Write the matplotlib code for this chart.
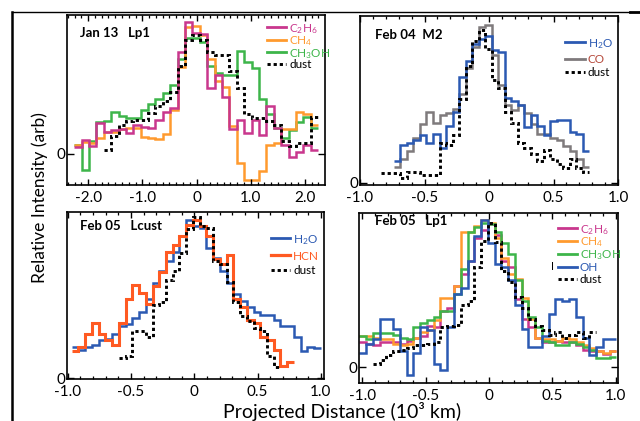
import numpy as np
import matplotlib
matplotlib.use('Agg')
import matplotlib.pyplot as plt
from matplotlib.lines import Line2D
from matplotlib.ticker import MultipleLocator

FONT = 'Lato'
plt.rcParams['font.family'] = [FONT, 'DejaVu Sans']
plt.rcParams['mathtext.fontset'] = 'custom'
plt.rcParams['mathtext.rm'] = FONT
plt.rcParams['mathtext.it'] = FONT + ':italic'
plt.rcParams['mathtext.bf'] = FONT + ':bold'
plt.rcParams['axes.unicode_minus'] = False

C_MAG = '#C9378D'
C_ORA = '#FF9A2E'
C_GRN = '#3DB54A'
C_BLU = '#2B59B2'
C_GRY = '#7F7A7C'
C_HCN = '#FF5A22'
C_CO_TXT = '#B5483A'

# ---------------- data ----------------
# Panel 1: Jan 13 Lp1  (bins: start, width)
p1_start, p1_width = -2.258, 0.1364
p1_c2h6 = [0.056, 0.106, 0.063, 0.237, 0.169, 0.18, 0.187, 0.16, 0.22, 0.207, 0.2, 0.26, 0.32, 0.35,
           0.77, 1.0, 0.92, 0.91, 0.5, 0.6, 0.43, 0.19, 0.26, 0.157, 0.26, 0.144, 0.36, 0.2, 0.07,
           -0.02, 0.018, 0.07, 0.03]
p1_ch4 = [0.07, 0.09, 0.08, 0.12, 0.17, 0.17, 0.19, 0.2, 0.2, 0.13, 0.12, 0.11, 0.15, 0.33,
          0.66, 0.96, 0.97, 0.9, 0.72, 0.55, 0.51, 0.21, -0.07, -0.2, -0.2, -0.13, 0.07, 0.08,
          0.19, 0.19, 0.32, 0.3, 0.22]
p1_ch3oh = [0.07, -0.12, 0.1, 0.245, 0.25, 0.32, 0.29, 0.27, 0.27, 0.33, 0.38, 0.42, 0.46, 0.52,
            0.72, 0.88, 0.88, 0.85, 0.67, 0.61, 0.6, 0.6, 0.78, 0.7, 0.65, 0.42, 0.3, 0.2, 0.12,
            0.18, 0.24, 0.28, 0.2]
p1_dust_off = 4
p1_dust = [0.03, 0.14, 0.22, 0.25, 0.26, 0.26, 0.31, 0.36, 0.4, 0.47, 0.67, 0.86, 0.9, 0.86, 0.77,
           0.75, 0.75, 0.63, 0.5, 0.3, 0.27, 0.27, 0.25, 0.22, 0.1, 0.06, 0.08, 0.08, 0.28]

# Panel 2: Feb 04 M2
p2_start, p2_width = -0.838, 0.0505
p2_gas_off = 2
p2_h2o = [0.14, 0.24, 0.25, 0.27, 0.3, 0.25, 0.31, 0.22, 0.36, 0.45, 0.67, 0.77, 0.88, 0.91, 0.93,
          0.84, 0.83, 0.54, 0.52, 0.49, 0.35, 0.43, 0.36, 0.3, 0.39, 0.4, 0.4, 0.32, 0.31, 0.2]
p2_co = [0.1, 0.15, 0.2, 0.28, 0.37, 0.45, 0.38, 0.43, 0.44, 0.47, 0.56, 0.73, 0.86, 0.99, 1.0,
         0.81, 0.62, 0.49, 0.46, 0.49, 0.44, 0.37, 0.31, 0.31, 0.28, 0.27, 0.23, 0.2, 0.15, 0.1]
p2_dust = [0.06, 0.06, 0.06, 0.03, 0.07, 0.07, 0.05, 0.05, 0.05, 0.25, 0.24, 0.3, 0.53, 0.74, 0.9,
           0.97, 0.85, 0.65, 0.6, 0.45, 0.38, 0.25, 0.22, 0.18, 0.14, 0.21, 0.15, 0.12, 0.09, 0.15,
           0.09, 0.07]

# Panel 3: Feb 05 Lcust
p3_start, p3_width = -0.968, 0.0532
p3_h2o = [0.2, 0.18, 0.2, 0.21, 0.24, 0.25, 0.28, 0.33, 0.34, 0.38, 0.42, 0.5, 0.6, 0.68, 0.74,
          0.8, 0.9, 1.0, 0.96, 0.95, 0.82, 0.76, 0.68, 0.6, 0.53, 0.49, 0.45, 0.42, 0.4, 0.4,
          0.37, 0.33, 0.33, 0.26, 0.17, 0.2, 0.19]
p3_hcn = [0.17, 0.2, 0.28, 0.35, 0.28, 0.24, 0.21, 0.35, 0.5, 0.59, 0.54, 0.47, 0.58, 0.67, 0.8,
          0.84, 0.9, 0.97, 1.0, 0.96, 0.9, 0.75, 0.72, 0.78, 0.5, 0.45, 0.37, 0.35, 0.26, 0.24,
          0.18, 0.08, 0.1]
p3_dust_off = 7
p3_dust = [0.13, 0.14, 0.3, 0.3, 0.26, 0.46, 0.48, 0.62, 0.68, 0.79, 0.94, 1.02, 0.96, 0.95, 0.74,
           0.72, 0.61, 0.48, 0.39, 0.36, 0.32, 0.3, 0.14, 0.07]

# Panel 4: Feb 05 Lp1
p4_start, p4_width = -1.024, 0.0534
p4_c2h6 = [0.17, 0.16, 0.15, 0.17, 0.17, 0.17, 0.16, 0.18, 0.2, 0.21, 0.28, 0.27, 0.38, 0.4, 0.55,
           0.63, 0.72, 0.88, 0.93, 0.97, 0.9, 0.72, 0.68, 0.46, 0.33, 0.27, 0.2, 0.17, 0.17, 0.18,
           0.17, 0.17, 0.15, 0.12, 0.11, 0.11, 0.09, 0.11]
p4_ch4 = [0.21, 0.21, 0.2, 0.19, 0.19, 0.16, 0.15, 0.16, 0.2, 0.24, 0.25, 0.32, 0.47, 0.47, 0.55,
          0.92, 0.92, 0.96, 1.0, 0.98, 0.88, 0.74, 0.63, 0.6, 0.47, 0.33, 0.2, 0.19, 0.19, 0.18,
          0.2, 0.19, 0.17, 0.15, 0.13, 0.11, 0.1, 0.11]
p4_ch3oh = [0.21, 0.19, 0.23, 0.23, 0.23, 0.22, 0.2, 0.19, 0.27, 0.3, 0.32, 0.34, 0.38, 0.38, 0.5,
            0.67, 0.92, 0.95, 0.98, 0.97, 0.92, 0.84, 0.77, 0.59, 0.45, 0.34, 0.27, 0.18, 0.17,
            0.15, 0.15, 0.17, 0.16, 0.14, 0.12, 0.06, 0.06, 0.07]
p4_oh = [0.1, 0.16, 0.19, 0.33, 0.33, 0.26, 0.11, -0.05, 0.1, 0.27, 0.25, 0.02, -0.02, 0.27, 0.5,
         0.54, 0.72, 0.89, 1.0, 0.84, 0.7, 0.68, 0.59, 0.42, 0.26, 0.14, 0.14, 0.21, 0.36, 0.46,
         0.45, 0.46, 0.34, 0.2, 0.08, 0.14, 0.19, 0.19]
p4_dust_off = 2
p4_dust = [0.02, 0.05, 0.08, 0.11, 0.12, 0.13, 0.15, 0.15, 0.16, 0.17, 0.27, 0.28, 0.29, 0.42,
           0.45, 0.68, 0.86, 0.98, 0.85, 0.65, 0.58, 0.48, 0.4, 0.33, 0.28, 0.25, 0.22, 0.24,
           0.2, 0.22, 0.24, 0.2, 0.24]

ticks_wide = [-2, -1, 0, 1, 2]
labels_wide = ['-2.0', '-1.0', '0', '1.0', '2.0']
ticks_narrow = [-1, -0.5, 0, 0.5, 1]
labels_narrow = ['-1.0', '-0.5', '0', '0.5', '1.0']

# ---------------- figure ----------------
W, H = 640, 421
fig = plt.figure(figsize=(6.4, 4.21), dpi=100)


def fpos(x0, y0, x1, y1):
    return [x0 / W, 1 - y1 / H, (x1 - x0) / W, (y1 - y0) / H]


def fy(y):
    return 1 - y / H


def edges(start, width, n, off=0):
    return start + width * (off + np.arange(n + 1))


LW = 1.8
DUST = dict(color='black', lw=2.1, ls=(0, (1.1, 1.0)))


def step(ax, vals, start, width, color, off=0, lw=LW, **kw):
    ax.stairs(vals, edges(start, width, len(vals), off), baseline=None,
              color=color, lw=lw, **kw)


def setup(ax, xlim, ylim, ticks, labels, minor):
    ax.set_xlim(*xlim)
    ax.set_ylim(*ylim)
    ax.set_xticks(ticks, labels)
    ax.xaxis.set_minor_locator(MultipleLocator(minor))
    ax.set_yticks([0], ['0'])
    ax.tick_params(axis='x', which='both', direction='in', top=True, bottom=True,
                   labelsize=11, pad=4.5)
    ax.tick_params(axis='x', which='major', length=4, width=1)
    ax.tick_params(axis='x', which='minor', length=2.5, width=0.9)
    ax.tick_params(axis='y', which='major', direction='in', left=True, right=True,
                   length=5, width=1, labelsize=11, pad=1.5)
    for s in ax.spines.values():
        s.set_linewidth(1.2)


def leg(x0, x1, y, color, label, tcolor, ls='-', lw=2.0):
    fig.add_artist(Line2D([x0 / W, x1 / W], [fy(y), fy(y)], color=color, lw=lw, ls=ls,
                          transform=fig.transFigure))
    fig.text((x1 + 3) / W, fy(y), label, color=tcolor, fontsize=8.5,
             ha='left', va='center_baseline')


TITLE = dict(fontsize=9.5, fontweight='bold', va='center')

# Panel 1
ax1 = fig.add_axes(fpos(67, 15, 325, 185))
setup(ax1, (-2.39, 2.37), (-0.235, 1.053), ticks_wide, labels_wide, 0.125)
step(ax1, p1_ch3oh, p1_start, p1_width, C_GRN)
step(ax1, p1_ch4, p1_start, p1_width, C_ORA)
step(ax1, p1_c2h6, p1_start, p1_width, C_MAG)
step(ax1, p1_dust, p1_start, p1_width, DUST['color'], off=p1_dust_off, lw=DUST['lw'], ls=DUST['ls'])
fig.text(80 / W, fy(33), 'Jan 13   Lp1', **TITLE)
leg(267, 286, 27, C_MAG, r'C$_2$H$_6$', C_MAG)
leg(267, 286, 39.5, C_ORA, r'CH$_4$', C_ORA)
leg(267, 286, 52, C_GRN, r'CH$_3$OH', C_GRN)
leg(267, 286, 64, 'black', 'dust', 'black', ls=DUST['ls'], lw=DUST['lw'])

# Panel 2
ax2 = fig.add_axes(fpos(360, 16, 618, 185))
setup(ax2, (-1.0, 1.0), (-0.015, 1.057), ticks_narrow, labels_narrow, 0.1)
step(ax2, p2_co, p2_start, p2_width, C_GRY, off=p2_gas_off)
step(ax2, p2_h2o, p2_start, p2_width, C_BLU, off=p2_gas_off)
step(ax2, p2_dust, p2_start, p2_width, DUST['color'], lw=DUST['lw'], ls=DUST['ls'])
fig.text(375 / W, fy(35), 'Feb 04  M2', **TITLE)
leg(565, 585, 42, C_BLU, r'H$_2$O', C_BLU)
leg(565, 585, 58.5, C_GRY, 'CO', C_CO_TXT)
leg(565, 585, 72, 'black', 'dust', 'black', ls=DUST['ls'], lw=DUST['lw'])

# Panel 3
ax3 = fig.add_axes(fpos(67, 212, 324, 379))
setup(ax3, (-1.005, 1.025), (-0.005, 1.05), ticks_narrow, labels_narrow, 0.1)
step(ax3, p3_h2o, p3_start, p3_width, C_BLU)
step(ax3, p3_hcn, p3_start, p3_width, C_HCN, lw=2.2)
step(ax3, p3_dust, p3_start, p3_width, DUST['color'], off=p3_dust_off, lw=DUST['lw'], ls=DUST['ls'])
fig.text(80 / W, fy(226), 'Feb 05   Lcust', **TITLE)
leg(271, 290, 238, C_BLU, r'H$_2$O', C_BLU)
leg(271, 290, 255, C_HCN, 'HCN', C_HCN, lw=2.3)
leg(271, 290, 270, 'black', 'dust', 'black', ls=DUST['ls'], lw=DUST['lw'])

# Panel 4
ax4 = fig.add_axes(fpos(359, 213, 618, 383))
setup(ax4, (-1.026, 1.018), (-0.107, 1.047), ticks_narrow, labels_narrow, 0.1)
step(ax4, p4_c2h6, p4_start, p4_width, C_MAG)
step(ax4, p4_ch4, p4_start, p4_width, C_ORA)
step(ax4, p4_ch3oh, p4_start, p4_width, C_GRN)
step(ax4, p4_oh, p4_start, p4_width, C_BLU)
step(ax4, p4_dust, p4_start, p4_width, DUST['color'], off=p4_dust_off, lw=DUST['lw'], ls=DUST['ls'])
fig.text(375 / W, fy(221), 'Feb 05   Lp1', **TITLE)
leg(558, 577, 228, C_MAG, r'C$_2$H$_6$', C_MAG)
leg(558, 577, 240.5, C_ORA, r'CH$_4$', C_ORA)
leg(558, 577, 253.5, C_GRN, r'CH$_3$OH', C_GRN)
leg(558, 577, 266.5, C_BLU, 'OH', C_BLU)
leg(558, 577, 278.5, 'black', 'dust', 'black', ls=DUST['ls'], lw=DUST['lw'])
fig.text(553 / W, fy(266.5), 'I', fontsize=8, ha='center', va='center', color='black')

# axis labels
fig.text(40 / W, fy(198), 'Relative Intensity (arb)', rotation=90, ha='center', va='center',
         fontsize=12.5)
fig.text(342 / W, fy(418), 'Projected Distance (10³ km)', ha='center', va='baseline',
         fontsize=14)

# outer frame lines
fig.add_artist(Line2D([12 / W, 12 / W], [fy(12), 0], color='black', lw=1.8,
                      transform=fig.transFigure))
fig.add_artist(Line2D([12 / W, 630 / W], [fy(12), fy(12)], color='black', lw=1.0,
                      transform=fig.transFigure))
fig.add_artist(Line2D([630 / W, 1.0], [fy(12), fy(12)], color='black', lw=2.0,
                      transform=fig.transFigure))

fig.savefig('out.png', dpi=100)
